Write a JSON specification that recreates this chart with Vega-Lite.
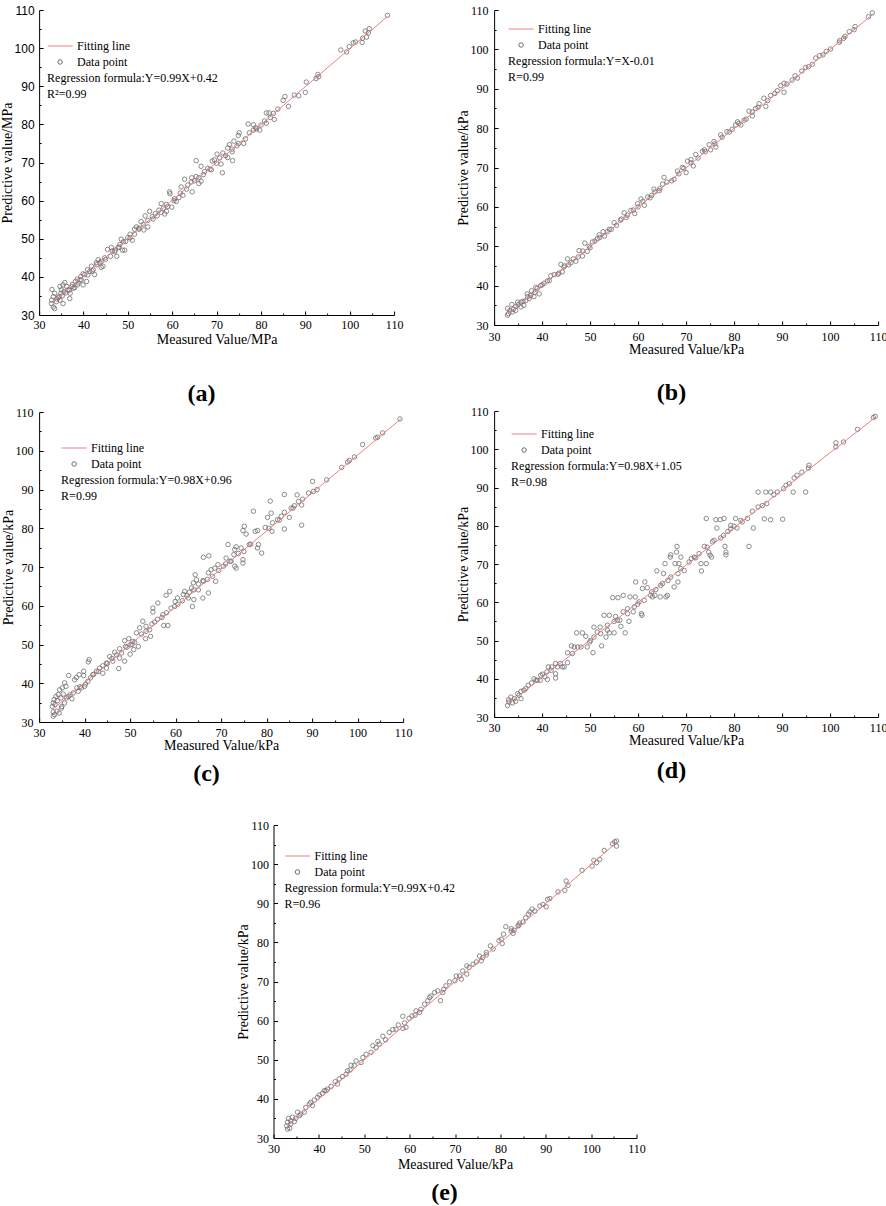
{
"$schema": "https://vega.github.io/schema/vega-lite/v6.json",
"padding": 0,
"background": "white",
"config": {
 "view": {"stroke": null},
 "font": "Liberation Serif",
 "axis": {"domainColor": "black", "tickColor": "black", "labelColor": "black", "titleColor": "black", "labelFont": "Liberation Serif", "titleFont": "Liberation Serif", "labelFontSize": 12, "titleFontSize": 14, "titleFontWeight": "normal", "grid": false, "domainWidth": 1, "tickWidth": 1, "labelFlush": false, "labelOverlap": false, "labelBound": false},
 "title": {"font": "Liberation Serif", "fontSize": 24, "fontWeight": "bold", "orient": "bottom", "frame": "bounds", "anchor": "middle", "color": "black"},
 "legend": {"orient": "none", "labelFont": "Liberation Serif", "labelFontSize": 12, "labelColor": "black", "titleFont": "Liberation Serif", "titleFontSize": 12, "titleFontWeight": "normal", "titleColor": "black", "titleOrient": "bottom", "titleAnchor": "start", "titleLineHeight": 16, "titlePadding": 5, "rowPadding": 4, "labelOffset": 4, "symbolStrokeWidth": 1, "titleLimit": 500, "labelLimit": 300, "padding": 0}
},
"datasets": {
 "a": [{"m":108.5,"p":108.6},{"m":104.4,"p":105.1},{"m":103.5,"p":104.5},{"m":103.8,"p":102.9},{"m":102.8,"p":101.5},{"m":104.2,"p":104},{"m":102.9,"p":102.6},{"m":100.8,"p":101.4},{"m":101.3,"p":101.6},{"m":99.9,"p":100.4},{"m":99.3,"p":99},{"m":98,"p":99.5},{"m":90.2,"p":91.1},{"m":90,"p":88.4},{"m":92.4,"p":92},{"m":92.8,"p":93.1},{"m":93,"p":92.5},{"m":87.5,"p":87.7},{"m":88.5,"p":87.5},{"m":86.2,"p":84.7},{"m":85.4,"p":87.3},{"m":85,"p":86.3},{"m":83.8,"p":84},{"m":81.2,"p":83},{"m":81.8,"p":83},{"m":82.8,"p":82.9},{"m":83,"p":81.3},{"m":82.1,"p":81.8},{"m":80.8,"p":80.9},{"m":81.2,"p":80.3},{"m":79.7,"p":78.5},{"m":77.1,"p":80.1},{"m":78.3,"p":79.9},{"m":78.3,"p":78.5},{"m":78.8,"p":79.1},{"m":77.4,"p":77.8},{"m":76.1,"p":75},{"m":75.1,"p":77.8},{"m":74.9,"p":77.1},{"m":73.9,"p":75.6},{"m":74.6,"p":74.4},{"m":72.9,"p":74.7},{"m":73.5,"p":73.5},{"m":72.5,"p":73.8},{"m":72.5,"p":71.3},{"m":73.6,"p":70.5},{"m":71.3,"p":67.3},{"m":71,"p":69.6},{"m":70.1,"p":72.2},{"m":71.4,"p":72.5},{"m":70.7,"p":71.2},{"m":69.5,"p":70.7},{"m":69,"p":70.4},{"m":65.4,"p":70.5},{"m":66.5,"p":69},{"m":65.4,"p":66.3},{"m":66.5,"p":65.1},{"m":66,"p":64.5},{"m":64.5,"p":62.3},{"m":64.3,"p":64.9},{"m":62.8,"p":65.6},{"m":63.5,"p":64.1},{"m":62,"p":63.6},{"m":64.4,"p":66},{"m":67.3,"p":67.6},{"m":68,"p":68.5},{"m":68.8,"p":68.1},{"m":59.4,"p":62.3},{"m":59.5,"p":61.8},{"m":58.7,"p":57.2},{"m":58.3,"p":56.5},{"m":59.9,"p":58.3},{"m":57.5,"p":59.2},{"m":58.7,"p":59},{"m":60.9,"p":59.8},{"m":61.5,"p":60.8},{"m":62.4,"p":61.4},{"m":60.4,"p":60},{"m":54.9,"p":57.2},{"m":53.9,"p":56},{"m":55.7,"p":55.2},{"m":54.5,"p":53.1},{"m":53.6,"p":52.3},{"m":53,"p":54.5},{"m":51.9,"p":53.1},{"m":56.6,"p":56},{"m":57.5,"p":56.9},{"m":52.5,"p":52.5},{"m":45.4,"p":47.2},{"m":46.1,"p":45.4},{"m":47,"p":46.6},{"m":48.2,"p":48.5},{"m":47.5,"p":45.4},{"m":49.3,"p":47},{"m":48.8,"p":47},{"m":48.5,"p":49.9},{"m":50,"p":50.3},{"m":51,"p":49.6},{"m":49,"p":49.2},{"m":50.5,"p":51.2},{"m":51.5,"p":52.5},{"m":46.3,"p":47.7},{"m":47.8,"p":47.7},{"m":44.4,"p":42.8},{"m":44,"p":42.5},{"m":43.3,"p":44.5},{"m":42.9,"p":43.7},{"m":41.8,"p":42.8},{"m":40.9,"p":41.9},{"m":39.9,"p":40.8},{"m":39.9,"p":37.9},{"m":40.7,"p":38.8},{"m":38.6,"p":39.4},{"m":38.2,"p":38.8},{"m":37.4,"p":37.5},{"m":38.6,"p":37.9},{"m":36.2,"p":37.5},{"m":35.4,"p":37.9},{"m":35.8,"p":38.5},{"m":36.9,"p":34.3},{"m":35.4,"p":33},{"m":34.9,"p":35.7},{"m":34.7,"p":37.5},{"m":33.5,"p":35.7},{"m":32.9,"p":36.7},{"m":32.8,"p":33.9},{"m":32.8,"p":33},{"m":33.2,"p":32.1},{"m":33.5,"p":31.7},{"m":33.9,"p":33.5},{"m":33.2,"p":34.8},{"m":34.3,"p":34.5},{"m":34.7,"p":33.9},{"m":35,"p":36.6},{"m":35.6,"p":36.1},{"m":36.5,"p":36.6},{"m":37,"p":35.7},{"m":37.7,"p":37},{"m":39.2,"p":39.2},{"m":41.4,"p":41.4},{"m":42.2,"p":41.9},{"m":43.7,"p":43.7},{"m":44.8,"p":45},{"m":42.5,"p":40.6},{"m":39.4,"p":40.1},{"m":34,"p":34.2},{"m":34.5,"p":34.8},{"m":35.2,"p":35},{"m":36,"p":35.8},{"m":36.8,"p":36.5},{"m":37.5,"p":38},{"m":38,"p":37.2},{"m":38.8,"p":38.4},{"m":39.5,"p":39.2},{"m":40.3,"p":40.6},{"m":41,"p":40.5},{"m":42,"p":41.5},{"m":43,"p":43.2},{"m":44,"p":44.1},{"m":45,"p":44.6},{"m":46.5,"p":46.8},{"m":47.2,"p":47},{"m":48,"p":47.8},{"m":49.5,"p":49.3},{"m":50.5,"p":50.2},{"m":51.5,"p":51.2},{"m":52.5,"p":52.8},{"m":53.5,"p":53.8},{"m":54.5,"p":54.8},{"m":55.5,"p":55.8},{"m":56.2,"p":56.6},{"m":57,"p":57.5},{"m":58,"p":58},{"m":59,"p":58.5},{"m":60.5,"p":60.5},{"m":61.8,"p":62},{"m":63.2,"p":63},{"m":65,"p":65.2},{"m":66,"p":66},{"m":67,"p":66.8},{"m":68.5,"p":68.2},{"m":70,"p":69.8},{"m":72,"p":71.8},{"m":73.5,"p":72.8},{"m":75,"p":75},{"m":76.5,"p":76.2},{"m":79,"p":78.8},{"m":80,"p":79.8}],
 "b": [{"m":108.8,"p":109.3},{"m":108,"p":108.3},{"m":105.2,"p":105.8},{"m":105,"p":105},{"m":104,"p":104.5},{"m":103.1,"p":103.3},{"m":102.8,"p":102.8},{"m":101.9,"p":101.8},{"m":100.1,"p":100.1},{"m":99.2,"p":99.5},{"m":97.8,"p":98.4},{"m":97,"p":97.8},{"m":96.3,"p":96.2},{"m":94.9,"p":95.4},{"m":94.1,"p":94.5},{"m":92.7,"p":93.3},{"m":92.1,"p":92.2},{"m":93.2,"p":92.7},{"m":90.4,"p":91.4},{"m":90.4,"p":89.1},{"m":89.7,"p":90.8},{"m":89,"p":89.5},{"m":87.6,"p":88.3},{"m":86.6,"p":85.5},{"m":86.2,"p":87.6},{"m":85.2,"p":86.2},{"m":84.5,"p":85},{"m":83.8,"p":84.1},{"m":83.1,"p":84.3},{"m":83.8,"p":83.1},{"m":82.1,"p":82},{"m":81.4,"p":80.8},{"m":80.7,"p":81.6},{"m":80.3,"p":80.8},{"m":79.6,"p":79.7},{"m":78.5,"p":79.1},{"m":77.2,"p":78.3},{"m":76.2,"p":75.2},{"m":75.8,"p":76.6},{"m":75.1,"p":74.5},{"m":74.8,"p":75.8},{"m":73.8,"p":74.5},{"m":73.4,"p":74.1},{"m":72,"p":73.3},{"m":71,"p":72},{"m":71.5,"p":70.4},{"m":70.3,"p":71.6},{"m":70,"p":68.7},{"m":69.2,"p":70},{"m":68.2,"p":69.1},{"m":67.5,"p":67},{"m":65.4,"p":67.5},{"m":65.1,"p":65.8},{"m":64.4,"p":64.1},{"m":63.3,"p":64.5},{"m":62.8,"p":62.9},{"m":62,"p":62.5},{"m":61.3,"p":60.4},{"m":60.6,"p":62},{"m":59.9,"p":60.8},{"m":59.3,"p":58.3},{"m":58.5,"p":59.1},{"m":57.8,"p":57.9},{"m":57.1,"p":58.5},{"m":56.3,"p":56.6},{"m":55,"p":56},{"m":54.4,"p":54.3},{"m":53.6,"p":53.7},{"m":52.7,"p":53.7},{"m":51.9,"p":52.9},{"m":51.5,"p":51.9},{"m":50.5,"p":51.1},{"m":49.8,"p":50},{"m":49.4,"p":48.7},{"m":48.9,"p":50.8},{"m":48.4,"p":47.5},{"m":47.7,"p":48.9},{"m":47,"p":46.2},{"m":46,"p":45.8},{"m":45.3,"p":46.8},{"m":44.7,"p":45},{"m":44.2,"p":43.5},{"m":43.9,"p":45.4},{"m":43.3,"p":42.9},{"m":41.8,"p":42.5},{"m":41.1,"p":41.2},{"m":40.4,"p":40.6},{"m":39.7,"p":40},{"m":39.4,"p":37.9},{"m":38.7,"p":39.6},{"m":37.8,"p":38.7},{"m":37.6,"p":37.5},{"m":36.9,"p":37.9},{"m":36.6,"p":36.2},{"m":35.6,"p":35.8},{"m":34.9,"p":35.8},{"m":34.5,"p":34.7},{"m":33.7,"p":35.2},{"m":32.8,"p":34.2},{"m":33,"p":32.9},{"m":32.8,"p":32.5},{"m":33.3,"p":33.7},{"m":33.8,"p":33.3},{"m":34.5,"p":33.7},{"m":35.6,"p":34.6},{"m":36.2,"p":35},{"m":37.3,"p":36.7},{"m":38.3,"p":37.2},{"m":34,"p":34},{"m":35,"p":35.2},{"m":36,"p":36},{"m":37,"p":37.2},{"m":38.5,"p":38.3},{"m":39,"p":39.3},{"m":40,"p":40.2},{"m":41.5,"p":41.3},{"m":42.5,"p":42.8},{"m":43.5,"p":43.2},{"m":44.5,"p":44.7},{"m":45.5,"p":45.3},{"m":46.5,"p":46.8},{"m":47.5,"p":47.3},{"m":48.5,"p":48.8},{"m":50,"p":49.6},{"m":51,"p":51.3},{"m":52,"p":52.2},{"m":53,"p":52.6},{"m":54,"p":54.3},{"m":55.5,"p":55.3},{"m":56.5,"p":56.9},{"m":57.5,"p":57.3},{"m":59,"p":59.2},{"m":60,"p":60},{"m":61,"p":61.4},{"m":62.5,"p":62.3},{"m":63.5,"p":63.8},{"m":64.5,"p":64.6},{"m":66,"p":66.3},{"m":67,"p":66.6},{"m":68.5,"p":68.4},{"m":69.5,"p":69.8},{"m":71,"p":71.2},{"m":72.5,"p":72.4},{"m":74,"p":74},{"m":76,"p":76},{"m":77.5,"p":77.7},{"m":79,"p":79},{"m":81,"p":81.2},{"m":82.5,"p":82.3},{"m":85,"p":85.3},{"m":87,"p":87},{"m":88.5,"p":88.8},{"m":91,"p":91.2},{"m":95.5,"p":95.6},{"m":98.5,"p":98.6},{"m":102,"p":102.2}],
 "c": [{"m":109.3,"p":108.2},{"m":105.5,"p":104.6},{"m":104.4,"p":103.5},{"m":104,"p":103.3},{"m":101.1,"p":101.6},{"m":99.3,"p":98.4},{"m":98.2,"p":97.5},{"m":97.8,"p":97.1},{"m":96.5,"p":95.7},{"m":93.2,"p":92.5},{"m":91.1,"p":90},{"m":90.1,"p":92.1},{"m":89.2,"p":89.1},{"m":90.3,"p":89.5},{"m":87.9,"p":87.5},{"m":87.7,"p":86},{"m":87.7,"p":80.8},{"m":87,"p":86.9},{"m":86.7,"p":88.6},{"m":86.1,"p":85.8},{"m":85.4,"p":85.2},{"m":83.9,"p":88.7},{"m":83.9,"p":84.1},{"m":83.9,"p":79.8},{"m":85,"p":82.8},{"m":83.2,"p":83.1},{"m":82.4,"p":82.2},{"m":81.3,"p":81.4},{"m":81.2,"p":79.2},{"m":80.8,"p":87},{"m":81,"p":83.9},{"m":80.2,"p":82.8},{"m":79.7,"p":80.2},{"m":78.9,"p":73.6},{"m":78.2,"p":75.8},{"m":78,"p":79.4},{"m":77.5,"p":79.2},{"m":77.1,"p":84.4},{"m":78,"p":74.9},{"m":76.2,"p":75.8},{"m":75.5,"p":78.5},{"m":75.1,"p":80.5},{"m":74.8,"p":79.4},{"m":75,"p":74},{"m":74.8,"p":71.9},{"m":74.8,"p":71},{"m":74.4,"p":74.9},{"m":73.3,"p":75.2},{"m":73.3,"p":69.7},{"m":73,"p":70.2},{"m":72.8,"p":73.2},{"m":71.5,"p":75.8},{"m":71.1,"p":72.3},{"m":71,"p":70.8},{"m":72.2,"p":71.5},{"m":68.8,"p":66.3},{"m":67.3,"p":72.9},{"m":66.1,"p":72.5},{"m":67.2,"p":63.3},{"m":66,"p":62},{"m":68.6,"p":69.7},{"m":68.1,"p":67.6},{"m":67.2,"p":68.5},{"m":66.1,"p":66.3},{"m":65,"p":64.1},{"m":64.3,"p":68},{"m":64.6,"p":66.7},{"m":63.9,"p":65.9},{"m":63.7,"p":59.8},{"m":64,"p":61.6},{"m":62.8,"p":62},{"m":61.7,"p":62.9},{"m":60.4,"p":62},{"m":59.9,"p":61.1},{"m":59.8,"p":59.8},{"m":58.7,"p":63.7},{"m":57.9,"p":62.7},{"m":56.1,"p":60.7},{"m":55,"p":59.4},{"m":55,"p":58.4},{"m":58.3,"p":54.9},{"m":57.4,"p":54.9},{"m":54.3,"p":53.8},{"m":54.5,"p":52.1},{"m":53.4,"p":51.5},{"m":52.8,"p":56},{"m":52.1,"p":54.3},{"m":51.4,"p":53},{"m":51.8,"p":49.5},{"m":50.6,"p":50.8},{"m":50.8,"p":48.7},{"m":50,"p":47.5},{"m":49.7,"p":51.5},{"m":48.8,"p":51},{"m":48.8,"p":45.7},{"m":47.5,"p":43.8},{"m":47.7,"p":46.5},{"m":47.7,"p":48.9},{"m":46.6,"p":48},{"m":45.5,"p":46.9},{"m":44.8,"p":45.2},{"m":44,"p":42.6},{"m":43.3,"p":43.9},{"m":42.6,"p":43.1},{"m":41,"p":46.1},{"m":40.8,"p":45.5},{"m":41.3,"p":41.4},{"m":40.7,"p":40.5},{"m":39.8,"p":43.1},{"m":39.8,"p":42},{"m":38.8,"p":42.2},{"m":38.2,"p":41.5},{"m":37.8,"p":40.9},{"m":36.5,"p":42},{"m":35.6,"p":40.1},{"m":35.9,"p":39.2},{"m":35.1,"p":38.8},{"m":34.5,"p":38.3},{"m":34.2,"p":37.1},{"m":33.7,"p":36.6},{"m":33.3,"p":35.8},{"m":33.1,"p":34.9},{"m":32.9,"p":34},{"m":33.1,"p":32.6},{"m":33.1,"p":31.5},{"m":33.4,"p":31.9},{"m":33.9,"p":32.8},{"m":34.4,"p":32.3},{"m":34.9,"p":33.6},{"m":35.6,"p":34.9},{"m":36.4,"p":36.6},{"m":37.5,"p":37.5},{"m":38.6,"p":37.9},{"m":39.3,"p":38.8},{"m":40,"p":39.2},{"m":40.2,"p":39.8},{"m":41.8,"p":42.2},{"m":44.8,"p":43.9},{"m":46.2,"p":45.7},{"m":48.1,"p":47.8},{"m":49.3,"p":49.3},{"m":50.4,"p":50},{"m":53.5,"p":53.4},{"m":55.4,"p":55.8},{"m":57.2,"p":57.7},{"m":59,"p":59.4},{"m":62,"p":63.7},{"m":63.5,"p":64.6},{"m":67.8,"p":69.3},{"m":69.3,"p":70.6},{"m":73,"p":74.5},{"m":33.5,"p":34.5},{"m":34,"p":35.5},{"m":34.8,"p":36.2},{"m":35,"p":34},{"m":35.3,"p":37.2},{"m":36,"p":36.2},{"m":36.8,"p":37},{"m":37.2,"p":36},{"m":38.3,"p":38.8},{"m":39,"p":39.1},{"m":42,"p":42.3},{"m":43,"p":43},{"m":44,"p":44.5},{"m":45,"p":45.1},{"m":46,"p":46.4},{"m":47,"p":47.3},{"m":49,"p":49.5},{"m":50,"p":49.9},{"m":51,"p":50.6},{"m":52.5,"p":52.7},{"m":53.5,"p":54.7},{"m":54.8,"p":55.3},{"m":56,"p":56.5},{"m":57,"p":57},{"m":58,"p":58.2},{"m":60.5,"p":60.4},{"m":61.5,"p":61.3},{"m":62.5,"p":62.6},{"m":63,"p":63.5},{"m":64,"p":64.1},{"m":65,"p":65.6},{"m":66,"p":66.5},{"m":67,"p":66.8},{"m":69.5,"p":69.1},{"m":70.5,"p":70.2},{"m":72,"p":71.5},{"m":73.8,"p":73.5},{"m":76.5,"p":75.9},{"m":80.5,"p":80},{"m":82.8,"p":82.1},{"m":85.8,"p":85.2}],
 "d": [{"m":109.4,"p":108.6},{"m":109,"p":108.3},{"m":105.7,"p":105.2},{"m":102.8,"p":101.9},{"m":101.2,"p":101.7},{"m":101.2,"p":100.6},{"m":95.6,"p":95.8},{"m":95.5,"p":95.1},{"m":94.9,"p":88.8},{"m":94.1,"p":94},{"m":93.1,"p":93.2},{"m":92.5,"p":92.5},{"m":92.3,"p":88.8},{"m":91.5,"p":91},{"m":90.8,"p":90.6},{"m":90.3,"p":89.7},{"m":90.1,"p":81.7},{"m":89,"p":88.8},{"m":87.6,"p":88.8},{"m":88.3,"p":88.1},{"m":86.6,"p":88.8},{"m":85,"p":88.8},{"m":86.8,"p":85.8},{"m":85.9,"p":85.3},{"m":85,"p":84.9},{"m":86.3,"p":81.8},{"m":87.6,"p":81.6},{"m":83.8,"p":83.8},{"m":84,"p":79.4},{"m":83.1,"p":74.6},{"m":82.8,"p":81.9},{"m":81.7,"p":81},{"m":81.4,"p":81.4},{"m":80.3,"p":81.9},{"m":80.6,"p":79.4},{"m":80,"p":79.9},{"m":79.3,"p":79.2},{"m":78.7,"p":78.5},{"m":78.3,"p":73.1},{"m":78.3,"p":72.4},{"m":78.1,"p":74.6},{"m":77.9,"p":81.9},{"m":77.1,"p":81.6},{"m":77.8,"p":77.5},{"m":77.2,"p":76.8},{"m":76.4,"p":79.4},{"m":76.2,"p":81.6},{"m":74.2,"p":81.9},{"m":75.5,"p":75.8},{"m":75.3,"p":71.8},{"m":75,"p":72.3},{"m":74.7,"p":73.1},{"m":73.8,"p":74.6},{"m":74.2,"p":70.1},{"m":73.2,"p":68.2},{"m":73.1,"p":70.1},{"m":72.7,"p":72.7},{"m":72,"p":71.6},{"m":71.1,"p":71.4},{"m":70.6,"p":70.5},{"m":69.6,"p":68.3},{"m":68.9,"p":71.8},{"m":68.5,"p":70.1},{"m":68.3,"p":67.5},{"m":68.3,"p":65.3},{"m":68.1,"p":74.6},{"m":68,"p":73.1},{"m":66.8,"p":72.4},{"m":66.7,"p":71.8},{"m":67.5,"p":64},{"m":67.7,"p":70.1},{"m":66.2,"p":65.7},{"m":66.1,"p":61.8},{"m":65.8,"p":61.4},{"m":65.6,"p":70.1},{"m":65.3,"p":67.5},{"m":65.1,"p":64.9},{"m":63.9,"p":68.2},{"m":63.7,"p":63.3},{"m":63.5,"p":61.8},{"m":64.6,"p":61.4},{"m":63,"p":61.4},{"m":62.8,"p":62.7},{"m":61.9,"p":63.8},{"m":61.4,"p":65.3},{"m":60.9,"p":63.6},{"m":60.7,"p":57},{"m":60.8,"p":56.6},{"m":60.2,"p":60.1},{"m":59.5,"p":65.3},{"m":59.4,"p":61.4},{"m":59.9,"p":59.5},{"m":59,"p":57.5},{"m":58.3,"p":61.4},{"m":58.1,"p":55},{"m":57.8,"p":58.3},{"m":56.9,"p":61.8},{"m":57.3,"p":52},{"m":56.9,"p":57.5},{"m":55.8,"p":61.2},{"m":54.7,"p":61.2},{"m":56.4,"p":53.7},{"m":56.2,"p":55.3},{"m":55.3,"p":56.3},{"m":55,"p":55},{"m":54,"p":56.6},{"m":53.6,"p":54},{"m":55,"p":52},{"m":54,"p":52},{"m":53.3,"p":50.9},{"m":52.4,"p":48.6},{"m":52.9,"p":56.6},{"m":52.1,"p":53.5},{"m":51.5,"p":52.2},{"m":50.8,"p":53.5},{"m":50.6,"p":46.8},{"m":50.8,"p":50.9},{"m":49.9,"p":49.6},{"m":49.4,"p":48.3},{"m":49.1,"p":51.1},{"m":48.4,"p":52},{"m":47.2,"p":52},{"m":47.4,"p":48.3},{"m":46.7,"p":48.3},{"m":46.1,"p":48.6},{"m":45.3,"p":46.8},{"m":45.3,"p":44.2},{"m":44.6,"p":43.1},{"m":44.2,"p":43.1},{"m":43.8,"p":44},{"m":42.8,"p":44},{"m":42.8,"p":41.3},{"m":42.8,"p":40.2},{"m":42,"p":43.1},{"m":41.3,"p":43.1},{"m":41.1,"p":39.8},{"m":40.6,"p":40.5},{"m":40.1,"p":41.2},{"m":39.6,"p":39.6},{"m":39,"p":39.6},{"m":38.3,"p":40},{"m":37.8,"p":38.9},{"m":37.1,"p":38.3},{"m":36.2,"p":37},{"m":35.6,"p":36.7},{"m":35.6,"p":34.8},{"m":34.9,"p":36.1},{"m":34.2,"p":34.8},{"m":33.5,"p":35.2},{"m":33.1,"p":33.9},{"m":32.8,"p":33},{"m":33,"p":34.5},{"m":33.8,"p":33.7},{"m":34.5,"p":34.1},{"m":35.2,"p":35.7},{"m":36.6,"p":37.4},{"m":38.7,"p":39.6},{"m":39.7,"p":40.9},{"m":41,"p":41.8},{"m":41.9,"p":42.2},{"m":43.2,"p":43.1},{"m":46.3,"p":46.6},{"m":48.1,"p":48.3},{"m":50.1,"p":50},{"m":52.2,"p":51.8},{"m":53.6,"p":52.7},{"m":55.7,"p":55.3},{"m":57.8,"p":57},{"m":59.2,"p":58.8},{"m":61.3,"p":60.5},{"m":62.6,"p":61.8},{"m":64.7,"p":64.4},{"m":66.8,"p":66.6},{"m":68.9,"p":68.8},{"m":71.7,"p":71.8},{"m":74.4,"p":74.4},{"m":75.8,"p":76.2},{"m":79.3,"p":80.1}],
 "e": [{"m":105.6,"p":105.9},{"m":105.2,"p":105.7},{"m":105.6,"p":104.6},{"m":104.7,"p":105.2},{"m":102.9,"p":103.5},{"m":101.9,"p":101.2},{"m":100.6,"p":101},{"m":100.2,"p":99.5},{"m":101.2,"p":100.4},{"m":98,"p":98.4},{"m":94.5,"p":95.7},{"m":94.2,"p":93.3},{"m":94.9,"p":94.6},{"m":92.7,"p":92.9},{"m":90.9,"p":91.2},{"m":90.4,"p":91},{"m":90.1,"p":89.1},{"m":89.4,"p":89.7},{"m":88.7,"p":89.3},{"m":87.6,"p":88},{"m":87,"p":88.5},{"m":86.5,"p":87.8},{"m":86.2,"p":87.2},{"m":85.6,"p":86.3},{"m":85,"p":85.2},{"m":84.1,"p":84.4},{"m":83.9,"p":84.2},{"m":83,"p":83.1},{"m":82.4,"p":83.5},{"m":82.8,"p":82.3},{"m":81.2,"p":84},{"m":80.7,"p":82.1},{"m":80.4,"p":79.7},{"m":80.2,"p":80.8},{"m":79.7,"p":80.4},{"m":78.4,"p":78.3},{"m":77.8,"p":79.1},{"m":76.9,"p":76.8},{"m":76.1,"p":76.1},{"m":75.8,"p":75.3},{"m":75.4,"p":76.5},{"m":74.7,"p":75},{"m":74,"p":74.4},{"m":73.1,"p":73.6},{"m":72.6,"p":74},{"m":72.6,"p":71.9},{"m":71.7,"p":72.7},{"m":71.4,"p":70.6},{"m":70.3,"p":71.4},{"m":70,"p":70.2},{"m":68.8,"p":69.9},{"m":68,"p":68.9},{"m":67.5,"p":68},{"m":66.8,"p":65.1},{"m":66.2,"p":67.6},{"m":65.5,"p":67.2},{"m":64.7,"p":66.3},{"m":64,"p":65.1},{"m":64.4,"p":65.9},{"m":63.3,"p":64.2},{"m":62.5,"p":62.9},{"m":61.4,"p":62.5},{"m":61.2,"p":61.4},{"m":60.5,"p":61.2},{"m":59.9,"p":60.6},{"m":58.5,"p":61.1},{"m":58.9,"p":59.4},{"m":59.2,"p":58.3},{"m":58.5,"p":58},{"m":57.5,"p":58.9},{"m":56.3,"p":57.7},{"m":55.5,"p":57},{"m":54.7,"p":55.1},{"m":54.1,"p":56},{"m":53.3,"p":54},{"m":53,"p":54.7},{"m":51.9,"p":53.6},{"m":51.5,"p":51.9},{"m":50.4,"p":51.4},{"m":49.7,"p":50.6},{"m":49.3,"p":49.3},{"m":48.2,"p":49.7},{"m":47.8,"p":48.5},{"m":47.1,"p":48.6},{"m":46.9,"p":47.4},{"m":46,"p":46.3},{"m":45.2,"p":45.7},{"m":44.5,"p":45.1},{"m":44.1,"p":43.8},{"m":43.6,"p":44.4},{"m":42.7,"p":43.2},{"m":41.9,"p":42.5},{"m":41.2,"p":42.1},{"m":40.8,"p":41.4},{"m":40.1,"p":41},{"m":39.7,"p":40.4},{"m":39,"p":39.7},{"m":38.6,"p":38.3},{"m":37.9,"p":38.7},{"m":37.1,"p":37.8},{"m":36.8,"p":36.6},{"m":36,"p":36.1},{"m":35.3,"p":36.6},{"m":34.9,"p":35},{"m":34.2,"p":35.3},{"m":33.8,"p":34.4},{"m":33.3,"p":35},{"m":33.1,"p":34},{"m":32.9,"p":33.1},{"m":33.1,"p":32.3},{"m":33.6,"p":32.5},{"m":33.8,"p":33.6},{"m":34.6,"p":34.2},{"m":35.7,"p":35.7},{"m":38.2,"p":39.1},{"m":41.6,"p":42.1},{"m":46.3,"p":47.2},{"m":52.6,"p":53.1},{"m":57,"p":57.8},{"m":62.2,"p":62.1},{"m":67.3,"p":67.2},{"m":71,"p":71.4},{"m":76.9,"p":77.4},{"m":82.4,"p":82.9},{"m":84.2,"p":84.9}],
 "la": [{"m":33,"p":33.2},{"m":108.5,"p":108.3}],
 "lb": [{"m":33,"p":32.9},{"m":109,"p":109}],
 "lc": [{"m":33,"p":33.3},{"m":109.5,"p":108.2}],
 "ld": [{"m":33,"p":33.5},{"m":109.5,"p":108.4}],
 "le": [{"m":33,"p":33},{"m":105.6,"p":105.5}]
},
"center": true,
"spacing": 33,
"resolve": {"scale": {"color": "independent", "shape": "independent", "size": "independent"}},
"vconcat": [
 {"spacing": 44, "resolve": {"scale": {"color": "independent", "shape": "independent", "size": "independent"}}, "hconcat": [
  {"spacing": 0, "resolve": {"scale": {"color": "independent", "shape": "independent", "size": "independent"}}, "vconcat": [
   {"width": 355, "height": 305, "title": {"text": "(a)", "offset": 36},
    "resolve": {"axis": {"x": "independent", "y": "independent"}},
    "layer": [
     {"data": {"name": "a"}, "mark": {"type": "point", "filled": false, "strokeWidth": 0.8, "opacity": 1},
      "encoding": {
       "x": {"field": "m", "type": "quantitative", "scale": {"domain": [30, 110], "nice": false, "zero": false}, "axis": {"orient": "bottom", "values": [30,40,50,60,70,80,90,100,110], "title": "Measured Value/MPa", "tickSize": -4, "labelPadding": 8, "titlePadding": 2}},
       "y": {"field": "p", "type": "quantitative", "scale": {"domain": [30, 110], "nice": false, "zero": false}, "axis": {"orient": "left", "values": [30,40,50,60,70,80,90,100,110], "title": "Predictive value/MPa", "tickSize": -4, "labelPadding": 9, "titlePadding": 0, "labelFont": "Liberation Sans"}},
       "color": {"datum": "Data point", "type": "nominal", "scale": {"domain": ["Fitting line", "Data point"], "range": ["#ef8080", "#6e6e6e"]}, "legend": {"title": ["Regression formula:Y=0.99X+0.42", "R²=0.99"], "legendX": 8, "legendY": 23}},
       "shape": {"datum": "Data point", "type": "nominal", "scale": {"domain": ["Fitting line", "Data point"], "range": ["stroke", "circle"]}, "legend": {"title": ["Regression formula:Y=0.99X+0.42", "R²=0.99"], "legendX": 8, "legendY": 23}},
       "size": {"datum": "Data point", "type": "nominal", "scale": {"type": "ordinal", "domain": ["Fitting line", "Data point"], "range": [625, 20]}, "legend": {"title": ["Regression formula:Y=0.99X+0.42", "R²=0.99"], "legendX": 8, "legendY": 23}}
      }},
     {"data": {"name": "la"}, "mark": {"type": "line", "color": "#ef7f7f", "strokeWidth": 1},
      "encoding": {
       "x": {"field": "m", "type": "quantitative", "axis": {"orient": "bottom", "values": [35,45,55,65,75,85,95,105], "labels": false, "domain": false, "tickSize": -2, "title": null}},
       "y": {"field": "p", "type": "quantitative", "axis": {"orient": "left", "values": [35,45,55,65,75,85,95,105], "labels": false, "domain": false, "tickSize": -2, "title": null}}
      }},
     {"data": {"name": "la"}, "mark": {"type": "point", "opacity": 0},
      "encoding": {
       "x": {"field": "m", "type": "quantitative", "axis": {"orient": "top", "labels": false, "domain": false, "ticks": false, "title": " ", "titleFontSize": 10, "titlePadding": 0}}
      }}
    ]},
   {"width": 364, "height": 310, "title": {"text": "(c)", "offset": 10},
    "resolve": {"axis": {"x": "independent", "y": "independent"}},
    "layer": [
     {"data": {"name": "c"}, "mark": {"type": "point", "filled": false, "strokeWidth": 0.8, "opacity": 1},
      "encoding": {
       "x": {"field": "m", "type": "quantitative", "scale": {"domain": [30, 110], "nice": false, "zero": false}, "axis": {"orient": "bottom", "values": [30,40,50,60,70,80,90,100,110], "title": "Measured Value/kPa", "tickSize": -4, "labelPadding": 9, "titlePadding": 0}},
       "y": {"field": "p", "type": "quantitative", "scale": {"domain": [30, 110], "nice": false, "zero": false}, "axis": {"orient": "left", "values": [30,40,50,60,70,80,90,100,110], "title": "Predictive value/kPa", "tickSize": -4, "labelPadding": 10, "titlePadding": 0}},
       "color": {"datum": "Data point", "type": "nominal", "scale": {"domain": ["Fitting line", "Data point"], "range": ["#ef8080", "#6e6e6e"]}, "legend": {"title": ["Regression formula:Y=0.98X+0.96", "R=0.99"], "legendX": 22, "legendY": 23}},
       "shape": {"datum": "Data point", "type": "nominal", "scale": {"domain": ["Fitting line", "Data point"], "range": ["stroke", "circle"]}, "legend": {"title": ["Regression formula:Y=0.98X+0.96", "R=0.99"], "legendX": 22, "legendY": 23}},
       "size": {"datum": "Data point", "type": "nominal", "scale": {"type": "ordinal", "domain": ["Fitting line", "Data point"], "range": [625, 20]}, "legend": {"title": ["Regression formula:Y=0.98X+0.96", "R=0.99"], "legendX": 22, "legendY": 23}}
      }},
     {"data": {"name": "lc"}, "mark": {"type": "line", "color": "#ef7f7f", "strokeWidth": 1},
      "encoding": {
       "x": {"field": "m", "type": "quantitative", "axis": {"orient": "bottom", "values": [35,45,55,65,75,85,95,105], "labels": false, "domain": false, "tickSize": -2, "title": null}},
       "y": {"field": "p", "type": "quantitative", "axis": {"orient": "left", "values": [35,45,55,65,75,85,95,105], "labels": false, "domain": false, "tickSize": -2, "title": null}}
      }}
    ]}
  ]},
  {"spacing": 0, "resolve": {"scale": {"color": "independent", "shape": "independent", "size": "independent"}}, "vconcat": [
   {"width": 384, "height": 315, "title": {"text": "(b)", "offset": 25},
    "resolve": {"axis": {"x": "independent", "y": "independent"}},
    "layer": [
     {"data": {"name": "b"}, "mark": {"type": "point", "filled": false, "strokeWidth": 0.8, "opacity": 1},
      "encoding": {
       "x": {"field": "m", "type": "quantitative", "scale": {"domain": [30, 110], "nice": false, "zero": false}, "axis": {"orient": "bottom", "values": [30,40,50,60,70,80,90,100,110], "title": "Measured Value/kPa", "tickSize": -4, "labelPadding": 10, "titlePadding": 0}},
       "y": {"field": "p", "type": "quantitative", "scale": {"domain": [30, 110], "nice": false, "zero": false}, "axis": {"orient": "left", "values": [30,40,50,60,70,80,90,100,110], "title": "Predictive value/kPa", "tickSize": -4, "labelPadding": 10, "titlePadding": 0}},
       "color": {"datum": "Data point", "type": "nominal", "scale": {"domain": ["Fitting line", "Data point"], "range": ["#ef8080", "#6e6e6e"]}, "legend": {"title": ["Regression formula:Y=X-0.01", "R=0.99"], "legendX": 14, "legendY": 6}},
       "shape": {"datum": "Data point", "type": "nominal", "scale": {"domain": ["Fitting line", "Data point"], "range": ["stroke", "circle"]}, "legend": {"title": ["Regression formula:Y=X-0.01", "R=0.99"], "legendX": 14, "legendY": 6}},
       "size": {"datum": "Data point", "type": "nominal", "scale": {"type": "ordinal", "domain": ["Fitting line", "Data point"], "range": [625, 20]}, "legend": {"title": ["Regression formula:Y=X-0.01", "R=0.99"], "legendX": 14, "legendY": 6}}
      }},
     {"data": {"name": "lb"}, "mark": {"type": "line", "color": "#ef7f7f", "strokeWidth": 1},
      "encoding": {
       "x": {"field": "m", "type": "quantitative", "axis": {"orient": "bottom", "values": [35,45,55,65,75,85,95,105], "labels": false, "domain": false, "tickSize": -2, "title": null}},
       "y": {"field": "p", "type": "quantitative", "axis": {"orient": "left", "values": [35,45,55,65,75,85,95,105], "labels": false, "domain": false, "tickSize": -2, "title": null}}
      }}
    ]},
   {"width": 384, "height": 306, "title": {"text": "(d)", "offset": 12},
    "resolve": {"axis": {"x": "independent", "y": "independent"}},
    "layer": [
     {"data": {"name": "d"}, "mark": {"type": "point", "filled": false, "strokeWidth": 0.8, "opacity": 1},
      "encoding": {
       "x": {"field": "m", "type": "quantitative", "scale": {"domain": [30, 110], "nice": false, "zero": false}, "axis": {"orient": "bottom", "values": [30,40,50,60,70,80,90,100,110], "title": "Measured Value/kPa", "tickSize": -4, "labelPadding": 9, "titlePadding": 0}},
       "y": {"field": "p", "type": "quantitative", "scale": {"domain": [30, 110], "nice": false, "zero": false}, "axis": {"orient": "left", "values": [30,40,50,60,70,80,90,100,110], "title": "Predictive value/kPa", "tickSize": -4, "labelPadding": 10, "titlePadding": 0}},
       "color": {"datum": "Data point", "type": "nominal", "scale": {"domain": ["Fitting line", "Data point"], "range": ["#ef8080", "#6e6e6e"]}, "legend": {"title": ["Regression formula:Y=0.98X+1.05", "R=0.98"], "legendX": 17, "legendY": 10}},
       "shape": {"datum": "Data point", "type": "nominal", "scale": {"domain": ["Fitting line", "Data point"], "range": ["stroke", "circle"]}, "legend": {"title": ["Regression formula:Y=0.98X+1.05", "R=0.98"], "legendX": 17, "legendY": 10}},
       "size": {"datum": "Data point", "type": "nominal", "scale": {"type": "ordinal", "domain": ["Fitting line", "Data point"], "range": [625, 20]}, "legend": {"title": ["Regression formula:Y=0.98X+1.05", "R=0.98"], "legendX": 17, "legendY": 10}}
      }},
     {"data": {"name": "ld"}, "mark": {"type": "line", "color": "#ef7f7f", "strokeWidth": 1},
      "encoding": {
       "x": {"field": "m", "type": "quantitative", "axis": {"orient": "bottom", "values": [35,45,55,65,75,85,95,105], "labels": false, "domain": false, "tickSize": -2, "title": null}},
       "y": {"field": "p", "type": "quantitative", "axis": {"orient": "left", "values": [35,45,55,65,75,85,95,105], "labels": false, "domain": false, "tickSize": -2, "title": null}}
      }}
    ]}
  ]}
 ]},
 {"width": 363, "height": 313, "title": {"text": "(e)", "offset": 10},
  "resolve": {"axis": {"x": "independent", "y": "independent"}},
  "layer": [
   {"data": {"name": "e"}, "mark": {"type": "point", "filled": false, "strokeWidth": 0.8, "opacity": 1},
    "encoding": {
     "x": {"field": "m", "type": "quantitative", "scale": {"domain": [30, 110], "nice": false, "zero": false}, "axis": {"orient": "bottom", "values": [30,40,50,60,70,80,90,100,110], "title": "Measured Value/kPa", "tickSize": -4, "labelPadding": 9, "titlePadding": 3}},
     "y": {"field": "p", "type": "quantitative", "scale": {"domain": [30, 110], "nice": false, "zero": false}, "axis": {"orient": "left", "values": [30,40,50,60,70,80,90,100,110], "title": "Predictive value/kPa", "tickSize": -4, "labelPadding": 9, "titlePadding": 0}},
     "color": {"datum": "Data point", "type": "nominal", "scale": {"domain": ["Fitting line", "Data point"], "range": ["#ef8080", "#6e6e6e"]}, "legend": {"title": ["Regression formula:Y=0.99X+0.42", "R=0.96"], "legendX": 11, "legendY": 18}},
     "shape": {"datum": "Data point", "type": "nominal", "scale": {"domain": ["Fitting line", "Data point"], "range": ["stroke", "circle"]}, "legend": {"title": ["Regression formula:Y=0.99X+0.42", "R=0.96"], "legendX": 11, "legendY": 18}},
     "size": {"datum": "Data point", "type": "nominal", "scale": {"type": "ordinal", "domain": ["Fitting line", "Data point"], "range": [625, 20]}, "legend": {"title": ["Regression formula:Y=0.99X+0.42", "R=0.96"], "legendX": 11, "legendY": 18}}
    }},
   {"data": {"name": "le"}, "mark": {"type": "line", "color": "#ef7f7f", "strokeWidth": 1},
    "encoding": {
     "x": {"field": "m", "type": "quantitative", "axis": {"orient": "bottom", "values": [35,45,55,65,75,85,95,105], "labels": false, "domain": false, "tickSize": -2, "title": null}},
     "y": {"field": "p", "type": "quantitative", "axis": {"orient": "left", "values": [35,45,55,65,75,85,95,105], "labels": false, "domain": false, "tickSize": -2, "title": null}}
    }},
   {"data": {"name": "le"}, "mark": {"type": "point", "opacity": 0},
    "encoding": {
     "y": {"field": "p", "type": "quantitative", "axis": {"orient": "right", "labels": false, "domain": false, "ticks": false, "title": " ", "titleFontSize": 16, "titlePadding": 0}}
    }}
  ]}
]
}
